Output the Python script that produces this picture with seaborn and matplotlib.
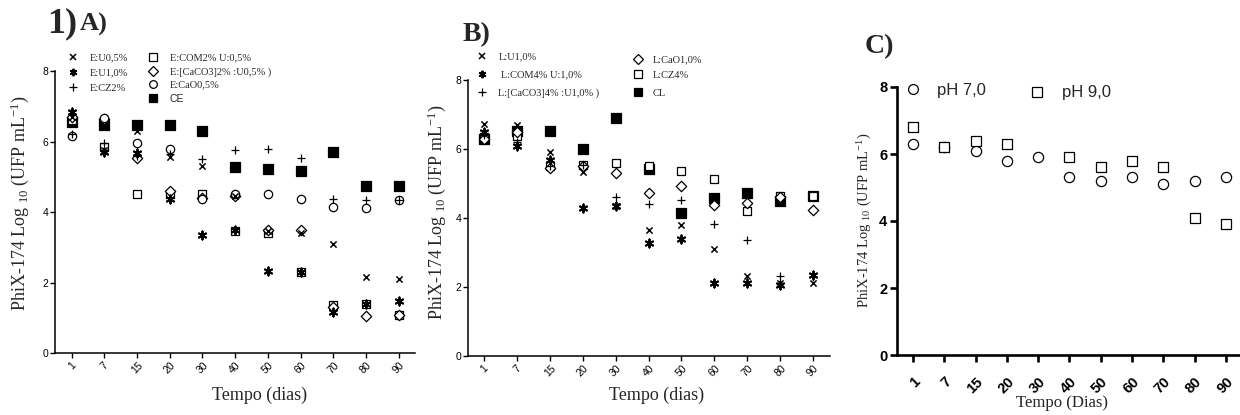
import numpy as np
import pandas as pd
import matplotlib
matplotlib.use("Agg")
import matplotlib.pyplot as plt
import seaborn as sns
from matplotlib.lines import Line2D

# ---------------- data ----------------
days = ['1', '7', '15', '20', '30', '40', '50', '60', '70', '80', '90']

# Panel A
a_u05 = [6.70, 5.75, 6.30, 5.55, 5.30, 4.45, 3.45, 3.40, 3.10, 2.15, 2.10]
a_u10 = [6.85, 5.70, 5.68, 4.38, 3.35, 3.50, 2.34, 2.30, 1.15, 1.40, 1.48]
a_cz2 = [6.20, 5.95, 5.60, 5.65, 5.50, 5.75, 5.80, 5.52, 4.38, 4.35, 4.35]
a_com2 = [6.60, 5.85, 4.50, 4.50, 4.50, 3.45, 3.40, 2.30, 1.37, 1.38, 1.08]
a_caco3 = [6.70, 6.65, 5.52, 4.60, 4.40, 4.45, 3.50, 3.50, 1.30, 1.05, 1.08]
a_cao = [6.15, 6.68, 5.96, 5.80, 4.38, 4.50, 4.52, 4.38, 4.15, 4.10, 4.35]
a_ce = [6.55, 6.48, 6.48, 6.48, 6.30, 5.27, 5.23, 5.17, 5.71, 4.75, 4.75]

# Panel B
b_u10 = [6.72, 6.70, 5.90, 5.33, 4.35, 3.64, 3.79, 3.09, 2.31, 2.12, 2.12]
b_com4 = [6.50, 6.10, 5.68, 4.30, 4.35, 3.28, 3.38, 2.11, 2.12, 2.05, 2.36]
b_caco3 = [6.40, 6.20, 5.50, 5.55, 4.62, 4.41, 4.53, 3.84, 3.36, 2.31, 2.30]
b_cao = [6.30, 6.50, 5.45, 5.50, 5.30, 4.72, 4.94, 4.37, 4.43, 4.60, 4.22]
b_cz4 = [6.35, 6.38, 5.50, 5.55, 5.59, 5.50, 5.35, 5.13, 4.20, 4.65, 4.63]
b_cl = [6.30, 6.53, 6.53, 6.00, 6.90, 5.42, 4.15, 4.59, 4.72, 4.48, 4.63]

# Panel C
c_ph7 = [6.3, 6.2, 6.1, 5.8, 5.9, 5.3, 5.2, 5.3, 5.1, 5.2, 5.3]
c_ph9 = [6.8, 6.2, 6.4, 6.3, np.nan, 5.9, 5.6, 5.8, 5.6, 4.1, 3.9]

labels_a = ['E:U0,5%', 'E:U1,0%', 'E:CZ2%', 'E:COM2% U:0,5%',
            'E:[CaCO3]2% :U0,5% )', 'E:CaO0,5%', 'CE']
labels_b = ['L:U1,0%', 'L:COM4% U:1,0%', 'L:[CaCO3]4% :U1,0% )',
            'L:CaO1,0%', 'L:CZ4%', 'CL']
labels_c = ['pH 7,0', 'pH 9,0']

# ---------------- style ----------------
sns.set_style("ticks")
plt.rcParams['font.family'] = ['Liberation Sans', 'DejaVu Sans']
plt.rcParams['mathtext.fontset'] = 'custom'
plt.rcParams['mathtext.rm'] = 'Liberation Serif'
plt.rcParams['mathtext.it'] = 'Liberation Serif:italic'
plt.rcParams['mathtext.bf'] = 'Liberation Serif:bold'

SERIF = 'Liberation Serif'
SANS = 'Liberation Sans'

STY = {
    'x':    dict(marker='x', face=None, s=20, lw=1.1),
    'ast':  dict(marker=(6, 2, 0), face=None, s=34, lw=1.4),
    'plus': dict(marker='+', face=None, s=40, lw=0.9),
    'sq':   dict(marker='s', face='white', s=34, lw=0.9),
    'dia':  dict(marker='D', face='white', s=28, lw=0.9),
    'circ': dict(marker='o', face='white', s=36, lw=0.9),
    'fsq':  dict(marker='s', face='black', s=44, lw=0.9),
}

W, H = 1240, 415
fig = plt.figure(figsize=(W / 100, H / 100), dpi=100)


def rect(l, r, b, t):
    return [l / W, 1 - b / H, (r - l) / W, (b - t) / H]


def draw(ax, vals, key, scale=1.0):
    st = STY[key]
    df = pd.DataFrame({'day': days, 'v': vals})
    if st['face'] is None:
        sns.scatterplot(data=df, x='day', y='v', marker=st['marker'], color='black',
                        s=st['s'] * scale, linewidth=st['lw'], ax=ax, clip_on=False,
                        legend=False, zorder=3)
    else:
        sns.scatterplot(data=df, x='day', y='v', marker=st['marker'], color=st['face'],
                        edgecolor='black', s=st['s'] * scale, linewidth=st['lw'], ax=ax,
                        clip_on=False, legend=False, zorder=3)


def handle(key, scale=1.0):
    st = STY[key]
    ms = np.sqrt(st['s'] * scale)
    if st['face'] is None:
        return Line2D([], [], ls='none', marker=st['marker'], color='black',
                      markersize=ms, markeredgewidth=st['lw'])
    return Line2D([], [], ls='none', marker=st['marker'], markerfacecolor=st['face'],
                  markeredgecolor='black', markersize=ms, markeredgewidth=st['lw'])


def entry(key, label, mx, tx, y, fs, family, scale=0.85):
    hl_px = 8.0
    fs_px = fs * 100 / 72
    fig.legend(handles=[handle(key, scale)], labels=[label], loc='center left',
               bbox_to_anchor=((mx - hl_px / 2) / W, 1 - y / H),
               bbox_transform=fig.transFigure, frameon=False, borderpad=0,
               borderaxespad=0, handlelength=hl_px / fs_px,
               handletextpad=(tx - mx - hl_px / 2) / fs_px,
               prop={'family': family, 'size': fs})


def style_small(ax, xl, xr):
    ax.set_xlim(xl, xr)
    ax.set_ylim(0, 8)
    ax.set_yticks([0, 2, 4, 6, 8])
    sns.despine(ax=ax)
    for sp in ('left', 'bottom'):
        ax.spines[sp].set_linewidth(1.1)
        ax.spines[sp].set_color('black')
    ax.tick_params(axis='both', direction='out', length=3.5, width=1.0,
                   colors='black', labelsize=7.5, pad=1.5)
    for lab in ax.get_xticklabels():
        lab.set_rotation(45)
        lab.set_ha('center')
        lab.set_fontfamily(SANS)
    ax.set_xlabel('')
    ax.set_ylabel('')


ylabel_txt = 'PhiX-174 Log $_{10}$ (UFP mL$^{-1}$)'

# ---------------- Panel A ----------------
axA = fig.add_axes(rect(55, 415, 353, 71))
for vals, key in [(a_ce, 'fsq'), (a_com2, 'sq'), (a_caco3, 'dia'), (a_cao, 'circ'),
                  (a_u05, 'x'), (a_u10, 'ast'), (a_cz2, 'plus')]:
    draw(axA, vals, key)
style_small(axA, -0.51, 10.5)
axA.set_ylabel(ylabel_txt, fontsize=13, fontfamily=SERIF)
axA.yaxis.set_label_coords(-0.097, 0.53)
axA.yaxis.label.set_va('center')
axA.set_xlabel('Tempo (dias)', fontsize=13, fontfamily=SERIF)
axA.xaxis.set_label_coords(0.567, -0.149)
axA.xaxis.label.set_va('center')

for key, lab, y in [('x', labels_a[0], 58), ('ast', labels_a[1], 73), ('plus', labels_a[2], 88)]:
    entry(key, lab, 73, 90, y, 7.5, SERIF)
for key, lab, y, fam in [('sq', labels_a[3], 58, SERIF), ('dia', labels_a[4], 72, SERIF),
                         ('circ', labels_a[5], 85, SERIF), ('fsq', labels_a[6], 99, SANS)]:
    entry(key, lab, 153, 170, y, 7.5, fam)

fig.text(47 / W, 1 - 32 / H, '1)', fontsize=26, fontweight='bold', fontfamily=SERIF,
         va='baseline', ha='left')
fig.text(80 / W, 1 - 31 / H, 'A)', fontsize=19, fontweight='bold', fontfamily=SERIF,
         va='baseline', ha='left')

# ---------------- Panel B ----------------
axB = fig.add_axes(rect(468, 830, 356, 80))
for vals, key in [(b_cl, 'fsq'), (b_cz4, 'sq'), (b_cao, 'dia'),
                  (b_u10, 'x'), (b_com4, 'ast'), (b_caco3, 'plus')]:
    draw(axB, vals, key)
style_small(axB, -0.49, 10.52)
axB.set_ylabel(ylabel_txt, fontsize=13, fontfamily=SERIF)
axB.yaxis.set_label_coords(-0.086, 0.52)
axB.yaxis.label.set_va('center')
axB.set_xlabel('Tempo (dias)', fontsize=13, fontfamily=SERIF)
axB.xaxis.set_label_coords(0.522, -0.141)
axB.xaxis.label.set_va('center')

for key, lab, y, tx in [('x', labels_b[0], 57, 499), ('ast', labels_b[1], 75, 501),
                        ('plus', labels_b[2], 93, 498)]:
    entry(key, lab, 482, tx, y, 7.5, SERIF)
for key, lab, y in [('dia', labels_b[3], 60), ('sq', labels_b[4], 75), ('fsq', labels_b[5], 93)]:
    entry(key, lab, 638, 653, y, 7.5, SERIF)

fig.text(463 / W, 1 - 41 / H, 'B)', fontsize=20, fontweight='bold', fontfamily=SERIF,
         va='baseline', ha='left')

# ---------------- Panel C ----------------
axC = fig.add_axes(rect(897, 1240, 355, 87))
draw(axC, c_ph7, 'circ', scale=1.5)
draw(axC, c_ph9, 'sq', scale=1.5)
axC.set_xlim(-0.51, 10.45)
axC.set_ylim(0, 8)
axC.set_yticks([0, 2, 4, 6, 8])
sns.despine(ax=axC)
for sp in ('left', 'bottom'):
    axC.spines[sp].set_linewidth(1.9)
    axC.spines[sp].set_color('black')
axC.tick_params(axis='both', direction='out', length=5, width=1.9, colors='black',
                labelsize=10.5, pad=2)
axC.tick_params(axis='x', pad=9)
for lab in axC.get_xticklabels() + axC.get_yticklabels():
    lab.set_fontweight('bold')
    lab.set_fontfamily(SANS)
for lab in axC.get_xticklabels():
    lab.set_rotation(45)
    lab.set_ha('right')
    lab.set_va('top')
    lab.set_rotation_mode('anchor')
axC.set_ylabel(ylabel_txt, fontsize=10.5, fontfamily=SERIF)
axC.yaxis.set_label_coords(-0.093, 0.504)
axC.yaxis.label.set_va('center')
axC.set_xlabel('Tempo (Dias)', fontsize=12, fontfamily=SERIF)
axC.xaxis.set_label_coords(0.481, -0.179)
axC.xaxis.label.set_va('center')

entry('circ', labels_c[0], 913, 937, 90, 12, SANS, scale=1.4)
entry('sq', labels_c[1], 1037, 1062, 93, 12, SANS, scale=1.4)

fig.text(865 / W, 1 - 53 / H, 'C)', fontsize=20, fontweight='bold', fontfamily=SERIF,
         va='baseline', ha='left')

fig.savefig('out.png', dpi=100)
